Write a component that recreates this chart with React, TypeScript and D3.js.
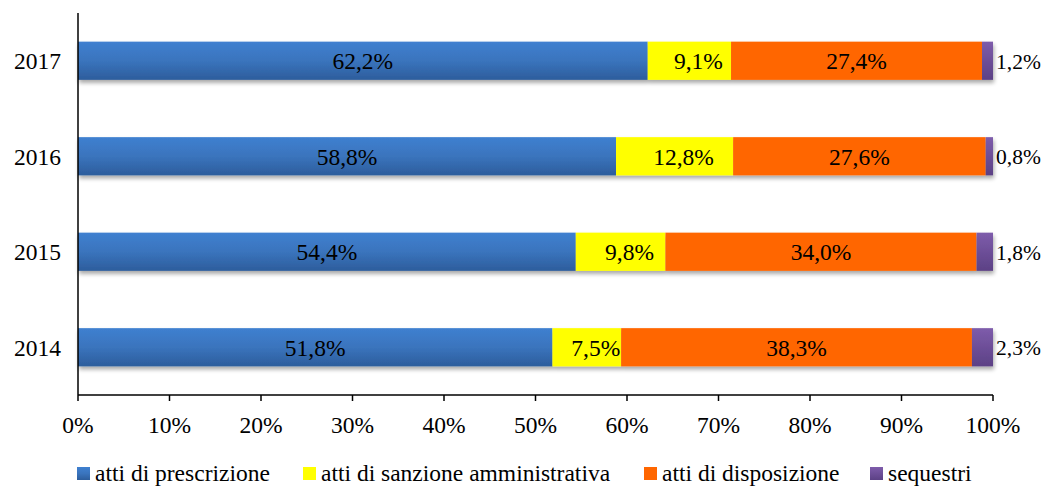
import React from "react";
import * as d3 from "d3";

const years = ["2017", "2016", "2015", "2014"];
const seriesNames = ["atti di prescrizione", "atti di sanzione amministrativa", "atti di disposizione", "sequestri"];
const prescrizione = [62.2, 58.8, 54.4, 51.8];
const sanzione = [9.1, 12.8, 9.8, 7.5];
const disposizione = [27.4, 27.6, 34.0, 38.3];
const sequestri = [1.2, 0.8, 1.8, 2.3];
const xTicks = [0, 10, 20, 30, 40, 50, 60, 70, 80, 90, 100];

const fills = ["url(#gBlue)", "#FFFF00", "#FF6600", "url(#gPurple)"];

const fmt = (v: number) => v.toFixed(1).replace(".", ",") + "%";

export default function App() {
  const W = 1045, H = 487;
  const left = 78, right = 993, top = 13, bottom = 395;
  const x = d3.scaleLinear().domain([0, 100]).range([left, right]);
  const y = d3.scaleBand().domain(years).range([top, bottom]).paddingInner(0.6).paddingOuter(0.3);
  const data = years.map((yr, i) => ({ year: yr, vals: [prescrizione[i], sanzione[i], disposizione[i], sequestri[i]] }));
  const ts = { fontFamily: "'Liberation Serif', 'Times New Roman', serif" };
  const legendX = [77, 303, 644, 870];
  const fs = 23.5;

  return (
    <svg width={W} height={H} style={{ position: "absolute", left: 0, top: 0, background: "#fff" }}>
      <defs>
        <linearGradient id="gBlue" x1="0" y1="0" x2="0" y2="1">
          <stop offset="0" stopColor="#3f80d0" />
          <stop offset="0.5" stopColor="#3a74bd" />
          <stop offset="1" stopColor="#2d5d9c" />
        </linearGradient>
        <linearGradient id="gPurple" x1="0" y1="0" x2="0" y2="1">
          <stop offset="0" stopColor="#7e5cab" />
          <stop offset="1" stopColor="#5c4185" />
        </linearGradient>
        <filter id="shadow" x="-5%" y="-20%" width="110%" height="160%">
          <feGaussianBlur in="SourceAlpha" stdDeviation="2" />
          <feOffset dx="1" dy="3" result="b" />
          <feComponentTransfer><feFuncA type="linear" slope="0.35" /></feComponentTransfer>
          <feMerge><feMergeNode /><feMergeNode in="SourceGraphic" /></feMerge>
        </filter>
      </defs>
      {data.map((d) => {
        const y0 = y(d.year)!;
        const bh = y.bandwidth();
        let acc = 0;
        const segs = d.vals.map((v, j) => {
          const s = { x0: acc, x1: acc + v, v, j };
          acc += v;
          return s;
        });
        const total = acc;
        const sc = (p: number) => x((p / total) * 100);
        return (
          <g key={d.year}>
            <g filter="url(#shadow)">
              {segs.map((s) => (
                <rect key={s.j} x={sc(s.x0)} y={y0} width={sc(s.x1) - sc(s.x0)} height={bh} fill={fills[s.j]} />
              ))}
            </g>
            {segs.map((s) =>
              s.j < 3 ? (
                <text key={"t" + s.j} x={(sc(s.x0) + sc(s.x1)) / 2 + (s.j === 1 ? 9 : 0)} y={y0 + bh / 2} dy="0.37em" textAnchor="middle" fontSize={fs} fill="#000" style={ts}>
                  {fmt(s.v)}
                </text>
              ) : (
                <text key={"t" + s.j} x={sc(s.x1) + 3} y={y0 + bh / 2} dy="0.37em" textAnchor="start" fontSize={21.5} fill="#000" style={ts}>
                  {fmt(s.v)}
                </text>
              )
            )}
            <text x={left - 17} y={y0 + bh / 2} dy="0.37em" textAnchor="end" fontSize={fs} fill="#000" style={ts}>
              {d.year}
            </text>
          </g>
        );
      })}
      <line x1={left} x2={left} y1={top} y2={bottom} stroke="#000" strokeWidth={1.5} />
      <line x1={left} x2={right} y1={bottom} y2={bottom} stroke="#000" strokeWidth={1.5} />
      {xTicks.map((t) => (
        <g key={t}>
          <line x1={x(t)} x2={x(t)} y1={bottom} y2={bottom + 6} stroke="#000" strokeWidth={1.5} />
          <text x={x(t)} y={433} textAnchor="middle" fontSize={fs} fill="#000" style={ts}>
            {t + "%"}
          </text>
        </g>
      ))}
      {seriesNames.map((n, i) => (
        <g key={n}>
          <rect x={legendX[i]} y={467} width={13} height={13} fill={fills[i]} />
          <text x={legendX[i] + 18} y={481} fontSize={fs} fill="#000" style={ts}>
            {n}
          </text>
        </g>
      ))}
    </svg>
  );
}
